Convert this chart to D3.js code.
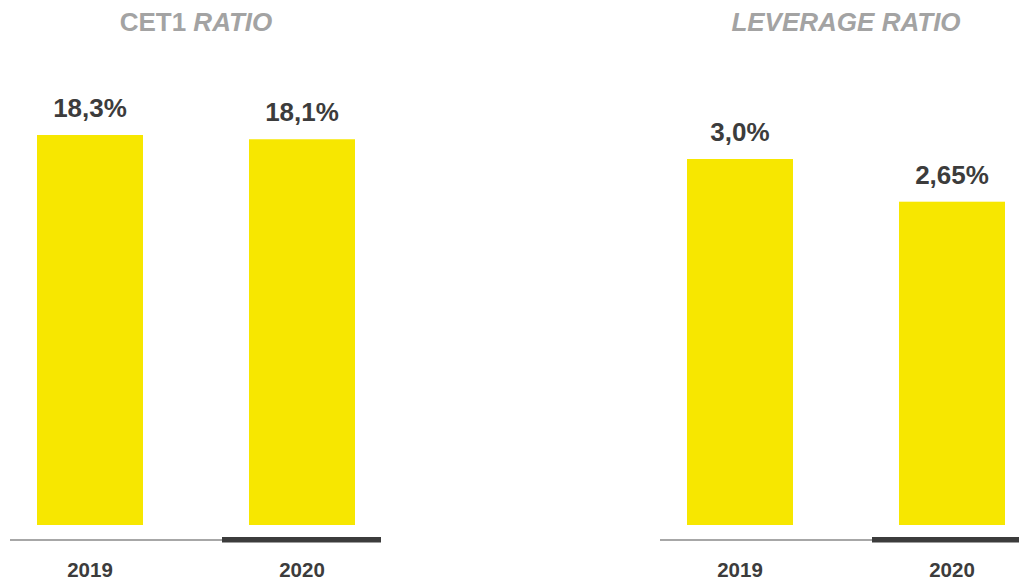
<!DOCTYPE html>
<html>
<head>
<meta charset="utf-8">
<script src="https://cdn.jsdelivr.net/npm/d3@7"></script>
<style>
  html, body { margin: 0; padding: 0; background: #fff; }
  svg { display: block; font-family: "Liberation Sans", Arial, Helvetica, sans-serif; }
</style>
</head>
<body>
<svg id="chart" width="1019" height="582"></svg>
<script>
const years = ["2019", "2020"];
const cet1Values = [18.3, 18.1];
const cet1Labels = ["18,3%", "18,1%"];
const leverageValues = [3.0, 2.65];
const leverageLabels = ["3,0%", "2,65%"];

const svg = d3.select("#chart");
const baseY = 525;

const panels = [
  { title: [{t: "CET1 ", italic: false}, {t: "RATIO", italic: true}], values: cet1Values, labels: cet1Labels, range: [-16, 408], topY: 135 },
  { title: [{t: "LEVERAGE RATIO", italic: true}], values: leverageValues, labels: leverageLabels, range: [634, 1058], topY: 159 }
];

panels.forEach(p => {
  const g = svg.append("g");
  const x = d3.scaleBand().domain(years).range(p.range).paddingInner(0.5).paddingOuter(0.25);
  const y = d3.scaleLinear().domain([0, d3.max(p.values)]).range([baseY, p.topY]);
  const bw = x.bandwidth();
  const gap = 27;

  // title
  const mid = (x(years[0]) + x(years[1]) + bw) / 2;
  const title = g.append("text")
    .attr("x", mid).attr("y", 31)
    .attr("text-anchor", "middle")
    .attr("font-size", 26).attr("font-weight", "bold")
    .attr("fill", "#a3a3a3");
  p.title.forEach(s => title.append("tspan").attr("font-style", s.italic ? "italic" : "normal").text(s.t));

  // bars
  g.selectAll("rect.bar").data(p.values).join("rect")
    .attr("class", "bar")
    .attr("x", (d, i) => x(years[i]))
    .attr("y", d => y(d))
    .attr("width", bw)
    .attr("height", d => baseY - y(d))
    .attr("fill", "#f7e700");

  // value labels
  g.selectAll("text.val").data(p.values).join("text")
    .attr("class", "val")
    .attr("x", (d, i) => x(years[i]) + bw / 2)
    .attr("y", d => y(d) - 18)
    .attr("text-anchor", "middle")
    .attr("font-size", 26).attr("font-weight", "bold")
    .attr("fill", "#3c3c3c")
    .text((d, i) => p.labels[i]);

  // axis lines
  g.append("line")
    .attr("x1", x(years[0]) - gap).attr("x2", x(years[1]) - gap)
    .attr("y1", 540).attr("y2", 540)
    .attr("stroke", "#8a8a8a").attr("stroke-width", 1.5);
  g.append("line")
    .attr("x1", x(years[1]) - gap).attr("x2", x(years[1]) + bw + 26)
    .attr("y1", 539.7).attr("y2", 539.7)
    .attr("stroke", "#3c3c3c").attr("stroke-width", 5.5);

  // year labels
  g.selectAll("text.year").data(years).join("text")
    .attr("class", "year")
    .attr("x", d => x(d) + bw / 2)
    .attr("y", 577)
    .attr("text-anchor", "middle")
    .attr("font-size", 20.5).attr("font-weight", "bold")
    .attr("fill", "#3c3c3c")
    .text(d => d);
});
</script>
</body>
</html>
